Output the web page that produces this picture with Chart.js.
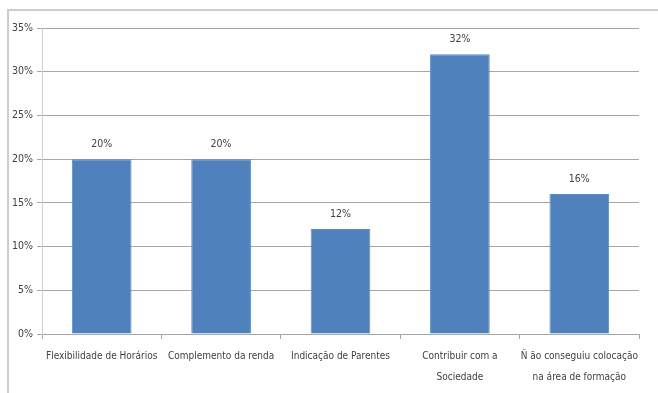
<!DOCTYPE html>
<html>
<head>
<meta charset="utf-8">
<script src="https://cdn.jsdelivr.net/npm/chart.js@4"></script>
<style>
  html, body { margin: 0; padding: 0; background: #fff; }
  #wrap { width: 658px; height: 393px; position: relative; }
</style>
</head>
<body>
<div id="wrap"><canvas id="motivosChart"></canvas></div>
<script>
const categories = [
    'Flexibilidade de Horários',
    'Complemento da renda',
    'Indicação de Parentes',
    ['Contribuir com a', 'Sociedade'],
    ['Ñ ão conseguiu colocação', 'na área de formação']
];
const percentages = [20, 20, 12, 32, 16];
const yTicks = [0, 5, 10, 15, 20, 25, 30, 35];

const fontFamily = "'DejaVu Sans Condensed', 'Liberation Sans Narrow', sans-serif";
const labelFont = { family: fontFamily, size: 10, lineHeight: 2.1 };

// value labels above each bar
const barValues = {
    id: 'barValues',
    afterDatasetsDraw(chart) {
        const c = chart.ctx;
        const meta = chart.getDatasetMeta(0);
        c.save();
        c.font = '10.5px ' + fontFamily;
        c.fillStyle = '#404040';
        c.textAlign = 'center';
        c.textBaseline = 'bottom';
        meta.data.forEach((bar, i) => {
            c.fillText(percentages[i] + '%', bar.x, bar.y - 10);
        });
        c.restore();
    }
};

// thin frame along the top and left edge
const frame = {
    id: 'frame',
    beforeDraw(chart) {
        const c = chart.ctx;
        c.save();
        c.strokeStyle = '#cdcdcd';
        c.lineWidth = 2;
        c.beginPath();
        c.moveTo(8, chart.height);
        c.lineTo(8, 10);
        c.lineTo(chart.width, 10);
        c.stroke();
        c.restore();
    }
};

const ctx = document.getElementById('motivosChart').getContext('2d');
const motivosChart = new Chart(ctx, {
    type: 'bar',
    data: {
        labels: categories,
        datasets: [{
            data: percentages,
            backgroundColor: '#4F81BD',
            borderColor: '#5b8cc6',
            borderWidth: 1,
            categoryPercentage: 0.5,
            barPercentage: 1
        }]
    },
    options: {
        responsive: true,
        maintainAspectRatio: false,
        animation: false,
        layout: { padding: { left: 0, right: 19, top: 28, bottom: 0 } },
        scales: {
            x: {
                grid: { drawOnChartArea: false, offset: true, tickLength: 5, color: '#a6a6a6' },
                border: { color: '#a6a6a6' },
                ticks: { color: '#404040', font: labelFont, padding: 7, maxRotation: 0, autoSkip: false },
                afterFit(scale) { scale.height = 59; }
            },
            y: {
                min: 0,
                max: 35,
                afterBuildTicks(scale) { scale.ticks = yTicks.map(v => ({ value: v })); },
                grid: { color: '#a6a6a6', tickLength: 5 },
                border: { color: '#d0d0d0' },
                ticks: { color: '#404040', font: { family: fontFamily, size: 10.5 }, padding: 4, callback: v => v + '%' },
                afterFit(scale) { scale.width = 42; }
            }
        },
        plugins: {
            legend: { display: false },
            tooltip: { enabled: false }
        }
    },
    plugins: [frame, barValues]
});
</script>
</body>
</html>
